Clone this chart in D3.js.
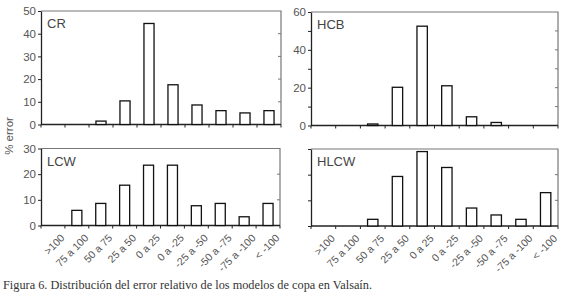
<!DOCTYPE html>
<html>
<head>
<meta charset="utf-8">
<script src="https://cdn.jsdelivr.net/npm/d3@7"></script>
<style>
  body { margin: 0; background: #fff; }
  svg { display: block; }
</style>
</head>
<body>
<script>
// DATA
const categories = [">100", "75 a 100", "50 a 75", "25 a 50", "0 a 25", "0 a -25", "-25 a -50", "-50 a -75", "-75 a -100", "< -100"];
const crValues   = [0, 0, 1.5, 10.4, 44.5, 17.5, 8.6, 6.1, 5.1, 6.1];
const hcbValues  = [0, 0, 0.8, 20.2, 52.5, 21.0, 4.6, 1.6, 0, 0];
const lcwValues  = [0, 5.9, 8.6, 15.7, 23.5, 23.5, 7.7, 8.6, 3.4, 8.6];
const hlcwValues = [0, 0, 2.6, 19.3, 29.0, 22.8, 7.0, 4.3, 2.6, 13.0];
const crTicks   = [0, 10, 20, 30, 40, 50];
const hcbTicks  = [0, 20, 40, 60];
const lcwTicks  = [0, 10, 20, 30];
const hlcwTicks = [0, 10, 20, 30];
const caption = "Figura 6. Distribución del error relativo de los modelos de copa en Valsaín.";

const W = 569, H = 303;
const svg = d3.select("body").append("svg").attr("width", W).attr("height", H);

// panel layout (top panels carry no category labels)
const panels = [
  {name: "CR",   values: crValues,   ymax: 50, ticks: crTicks,   minor: 10, labels: true,  xl: false, x0: 41,  x1: 281, y0: 11,  y1: 124.5},
  {name: "HCB",  values: hcbValues,  ymax: 60, ticks: hcbTicks,  minor: 10, labels: true,  xl: false, x0: 311, x1: 558, y0: 12,  y1: 125.5},
  {name: "LCW",  values: lcwValues,  ymax: 30, ticks: lcwTicks,  minor: 10, labels: true,  xl: true,  x0: 41,  x1: 280, y0: 148.5, y1: 225.5},
  {name: "HLCW", values: hlcwValues, ymax: 30, ticks: hlcwTicks, minor: 10, labels: false, xl: true,  x0: 311, x1: 558, y0: 149, y1: 226}
]

const font = "Arial, 'Liberation Sans', Helvetica, sans-serif";
const textCol = "#555";

panels.forEach(p => {
  const g = svg.append("g");
  const X = d3.scaleBand().domain(categories).range([p.x0, p.x1]).paddingInner(0.58).paddingOuter(0.29);
  const B = d3.scaleBand().domain(categories).range([p.x0, p.x1]);
  const Y = d3.scaleLinear().domain([0, p.ymax]).range([p.y1, p.y0]);
  const allTicks = d3.range(0, p.ymax + 0.01, p.minor);

  // frame top + right (grey)
  g.append("path")
    .attr("d", `M${p.x0},${p.y0}H${p.x1}V${p.y1}`)
    .attr("fill", "none").attr("stroke", "#777").attr("stroke-width", 1.2);

  // right side inward ticks
  g.selectAll(".rt").data(allTicks.filter(d => d > 0 && d < p.ymax)).enter()
    .append("line")
    .attr("x1", p.x1 - 3).attr("x2", p.x1)
    .attr("y1", d => Y(d)).attr("y2", d => Y(d))
    .attr("stroke", "#777").attr("stroke-width", 1);

  // y axis
  const yAxis = g.append("g").attr("transform", `translate(${p.x0},0)`)
    .call(d3.axisLeft(Y).tickValues(allTicks).tickSize(3).tickSizeOuter(0)
      .tickFormat(d => (p.labels && p.ticks.includes(d)) ? d : ""));
  yAxis.select(".domain").attr("stroke", "#222").attr("stroke-width", 1.3);
  yAxis.selectAll(".tick line").attr("stroke", "#222");
  yAxis.selectAll("text").attr("fill", textCol).style("font-family", font).style("font-size", "11.5px").attr("x", -5);

  // x axis with ticks at band edges
  const edges = categories.map(c => B(c)).concat([p.x1]);
  g.append("line").attr("x1", p.x0).attr("x2", p.x1).attr("y1", p.y1).attr("y2", p.y1)
    .attr("stroke", "#222").attr("stroke-width", 1.3);
  g.selectAll(".xt").data(edges).enter().append("line")
    .attr("x1", d => d).attr("x2", d => d)
    .attr("y1", p.y1).attr("y2", p.y1 + 3)
    .attr("stroke", "#222").attr("stroke-width", 1);

  if (p.xl) {
    g.selectAll(".xl").data(categories).enter().append("text")
      .attr("transform", d => `translate(${B(d) + B.bandwidth() / 2 + 7},${p.y1 + 8}) rotate(-45)`)
      .attr("text-anchor", "end")
      .attr("dy", "0.7em")
      .attr("fill", textCol)
      .style("font-family", font).style("font-size", "10.5px")
      .text(d => d);
  }

  // bars
  g.selectAll(".bar").data(p.values.map((v, i) => ({c: categories[i], v})).filter(d => d.v > 0)).enter()
    .append("rect")
    .attr("x", d => X(d.c))
    .attr("y", d => Y(d.v))
    .attr("width", X.bandwidth())
    .attr("height", d => Y(0) - Y(d.v))
    .attr("fill", "#fff").attr("stroke", "#111").attr("stroke-width", 1.3);

  // panel label
  g.append("text")
    .attr("x", p.x0 + 6).attr("y", p.y0 + 17)
    .attr("fill", "#444")
    .style("font-family", font).style("font-size", "13px")
    .text(p.name);
});

// y title
svg.append("text")
  .attr("transform", "translate(13,136) rotate(-90)")
  .attr("text-anchor", "middle")
  .attr("fill", textCol)
  .style("font-family", font).style("font-size", "11.5px")
  .text("% error");

// caption
svg.append("text")
  .attr("x", 3).attr("y", 289)
  .attr("fill", "#333")
  .attr("textLength", 369).attr("lengthAdjust", "spacingAndGlyphs")
  .style("font-family", "'Liberation Serif', 'Times New Roman', serif").style("font-size", "11.5px")
  .text(caption);
</script>
</body>
</html>
